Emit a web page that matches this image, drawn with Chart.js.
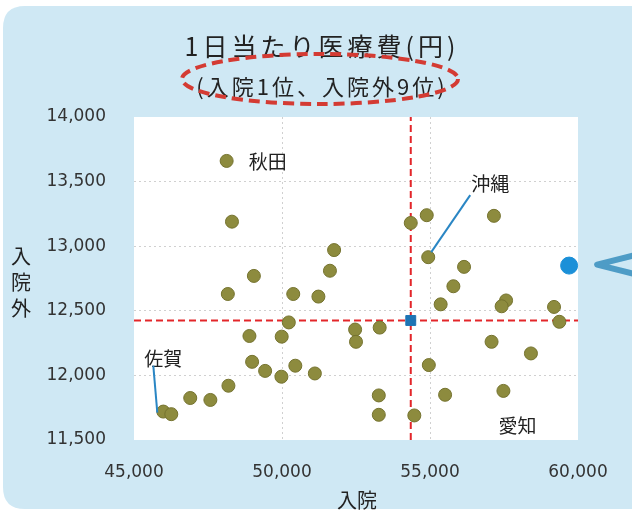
<!DOCTYPE html>
<html>
<head>
<meta charset="utf-8">
<script src="https://cdn.jsdelivr.net/npm/chart.js@4.4.1/dist/chart.umd.min.js"></script>
<style>
  html, body { margin: 0; padding: 0; background: #fff; }
  #chart-1 { display: block; }
</style>
</head>
<body>
<canvas id="chart-1" width="632" height="512"></canvas>
<script>
// 1日当たり医療費: 入院 (x) と 入院外 (y), 都道府県別
const inpatient = [
  48130, 48310, 51760, 51620, 49050, 48170, 50380, 51230, 50230, 48900,
  49990, 48990, 49430, 49980, 50450, 51110, 48190, 46900, 47580, 45990,
  46260, 52470, 52500, 53300, 53270, 53270, 54470, 54960, 55510, 55790,
  55360, 57570, 57420, 59190, 59370, 57080, 58410, 57480, 54350, 54890,
  57160, 54940, 56150
];
const outpatient = [
  13660, 13190, 12970, 12810, 12770, 12630, 12630, 12610, 12410, 12305,
  12300, 12105, 12035, 11990, 12075, 12015, 11920, 11825, 11810, 11720,
  11700, 12355, 12260, 12370, 11845, 11695, 11690, 12080, 11850, 12690,
  12550, 12580, 12535, 12530, 12415, 12260, 12170, 11880, 13180, 13240,
  13235, 12915, 12840
];

// highlighted prefecture and the national average
const highlight = { x: 59700, y: 12850 };
const average = { x: 54350, y: 12425 };

// prefecture labels: name and index into the arrays above
const labelNames = ['秋田', '沖縄', '佐賀', '愛知'];
const labelIndex = [0, 41, 19, 37];

const xTicks = [45000, 50000, 55000, 60000];
const yTicks = [11500, 12000, 12500, 13000, 13500, 14000];

const points = inpatient.map((x, i) => ({ x: x, y: outpatient[i] }));

const JP = '"Noto Sans CJK JP", "Noto Sans", sans-serif';

function roundRect(ctx, x, y, w, h, r) {
  ctx.beginPath();
  ctx.moveTo(x + r, y);
  ctx.lineTo(x + w - r, y);
  ctx.quadraticCurveTo(x + w, y, x + w, y + r);
  ctx.lineTo(x + w, y + h - r);
  ctx.quadraticCurveTo(x + w, y + h, x + w - r, y + h);
  ctx.lineTo(x + r, y + h);
  ctx.quadraticCurveTo(x, y + h, x, y + h - r);
  ctx.lineTo(x, y + r);
  ctx.quadraticCurveTo(x, y, x + r, y);
  ctx.closePath();
}

// blue panel behind everything, white plot area
const panel = {
  id: 'panel',
  beforeDraw(chart) {
    const { ctx, chartArea: a } = chart;
    ctx.save();
    ctx.fillStyle = '#ffffff';
    ctx.fillRect(0, 0, chart.width, chart.height);
    ctx.fillStyle = '#cfe8f4';
    roundRect(ctx, 3, 6, 660, 503, 22);
    ctx.fill();
    ctx.fillStyle = '#ffffff';
    ctx.fillRect(a.left, a.top, a.right - a.left, a.bottom - a.top);
    ctx.restore();
  }
};

// titles, axis names, prefecture labels and the arrow on the right
const notes = {
  id: 'notes',
  afterDraw(chart) {
    const { ctx } = chart;
    const xs = chart.scales.x, ys = chart.scales.y;
    ctx.save();
    ctx.fillStyle = '#222';
    ctx.textAlign = 'center';
    ctx.textBaseline = 'middle';
    ctx.font = '25px ' + JP;
    ctx.letterSpacing = '4px';
    ctx.fillText('1日当たり医療費(円)', 322, 46);
    ctx.font = '22px ' + JP;
    ctx.letterSpacing = '3px';
    ctx.fillText('(入院1位、入院外9位)', 322, 87);
    ctx.letterSpacing = '0px';

    // dashed ellipse round the subtitle
    ctx.strokeStyle = '#d43b33';
    ctx.lineWidth = 4;
    ctx.setLineDash([11, 6]);
    ctx.beginPath();
    ctx.ellipse(320, 79, 138, 25, 0, 0, Math.PI * 2);
    ctx.stroke();
    ctx.setLineDash([]);

    // axis names
    ctx.fillStyle = '#222';
    ctx.font = '20px ' + JP;
    ['入', '院', '外'].forEach((c, i) => ctx.fillText(c, 21, 256 + i * 26));
    ctx.fillText('入院', 357, 500);

    // prefecture labels
    ctx.font = '19px ' + JP;
    ctx.textAlign = 'left';
    const offsets = [[22, 1], [43, -73], [-19, -53], [-5, 35]];
    labelNames.forEach((name, k) => {
      const p = points[labelIndex[k]];
      const px = xs.getPixelForValue(p.x), py = ys.getPixelForValue(p.y);
      ctx.fillText(name, px + offsets[k][0], py + offsets[k][1]);
    });

    // leader lines
    ctx.strokeStyle = '#2a86c4';
    ctx.lineWidth = 2;
    const oki = points[labelIndex[1]];
    let px = xs.getPixelForValue(oki.x), py = ys.getPixelForValue(oki.y);
    ctx.beginPath();
    ctx.moveTo(px + 3, py - 5);
    ctx.lineTo(px + 42, py - 62);
    ctx.stroke();
    const saga = points[labelIndex[2]];
    px = xs.getPixelForValue(saga.x); py = ys.getPixelForValue(saga.y);
    ctx.beginPath();
    ctx.moveTo(px - 6, py + 1);
    ctx.lineTo(px - 10, py - 46);
    ctx.stroke();

    // arrow pointing at the highlighted point
    const hx = xs.getPixelForValue(highlight.x), hy = ys.getPixelForValue(highlight.y);
    ctx.strokeStyle = '#4e9cc6';
    ctx.lineWidth = 6;
    ctx.lineCap = 'round';
    ctx.lineJoin = 'round';
    ctx.beginPath();
    ctx.moveTo(hx + 80, hy - 14);
    ctx.lineTo(hx + 28, hy - 1);
    ctx.lineTo(hx + 80, hy + 12);
    ctx.stroke();
    ctx.restore();
  }
};

const fmt = v => v.toLocaleString('en-US');

// faint dotted grid, nothing on the outer edges of the plot
const gridColor = (ticks) => (c) => {
  const v = c.tick ? c.tick.value : null;
  if (v === ticks[0] || v === ticks[ticks.length - 1]) return 'rgba(0,0,0,0)';
  return 'rgba(150,150,150,0.45)';
};

new Chart(document.getElementById('chart-1'), {
  type: 'scatter',
  data: {
    datasets: [
      {
        label: '都道府県',
        data: points,
        pointRadius: 6.5,
        pointBackgroundColor: '#8d8b3e',
        pointBorderColor: '#75732f',
        pointBorderWidth: 1,
        order: 2
      },
      {
        label: '全国平均 入院',
        data: [{ x: average.x, y: yTicks[0] }, { x: average.x, y: yTicks[yTicks.length - 1] }],
        showLine: true,
        borderColor: '#e3262a',
        borderWidth: 2,
        borderDash: [7, 4],
        pointRadius: 0,
        order: 3
      },
      {
        label: '全国平均 入院外',
        data: [{ x: xTicks[0], y: average.y }, { x: xTicks[xTicks.length - 1], y: average.y }],
        showLine: true,
        borderColor: '#e3262a',
        borderWidth: 2,
        borderDash: [7, 4],
        pointRadius: 0,
        order: 3
      },
      {
        label: '全国平均',
        data: [average],
        pointStyle: 'rect',
        pointRadius: 7,
        pointBackgroundColor: '#1d74b4',
        pointBorderColor: '#1d74b4',
        order: 1
      },
      {
        label: '注目',
        data: [highlight],
        pointRadius: 8.5,
        pointBackgroundColor: '#1b90d8',
        pointBorderColor: '#1b90d8',
        clip: false,
        order: 1
      }
    ]
  },
  options: {
    responsive: false,
    animation: false,
    devicePixelRatio: 1,
    layout: { padding: { left: 0, top: 117, right: 54, bottom: 0 } },
    plugins: {
      legend: { display: false },
      tooltip: { enabled: false }
    },
    scales: {
      x: {
        type: 'linear',
        min: xTicks[0],
        max: xTicks[xTicks.length - 1],
        afterFit: s => { s.height = 72; },
        afterBuildTicks: s => { s.ticks = xTicks.map(v => ({ value: v })); },
        border: { display: false, dash: [2, 3] },
        grid: {
          color: gridColor(xTicks),
          lineWidth: 1,
          drawTicks: false
        },
        ticks: {
          padding: 22,
          color: '#333',
          font: { family: '"DejaVu Sans", sans-serif', size: 17 },
          callback: v => fmt(v)
        }
      },
      y: {
        type: 'linear',
        min: yTicks[0],
        max: yTicks[yTicks.length - 1],
        afterFit: s => { s.width = 134; },
        afterBuildTicks: s => { s.ticks = yTicks.map(v => ({ value: v })); },
        border: { display: false, dash: [2, 3] },
        grid: {
          color: gridColor(yTicks),
          lineWidth: 1,
          drawTicks: false
        },
        ticks: {
          padding: 28,
          color: '#333',
          font: { family: '"DejaVu Sans", sans-serif', size: 17 },
          callback: v => fmt(v)
        }
      }
    }
  },
  plugins: [panel, notes]
});
</script>
</body>
</html>
